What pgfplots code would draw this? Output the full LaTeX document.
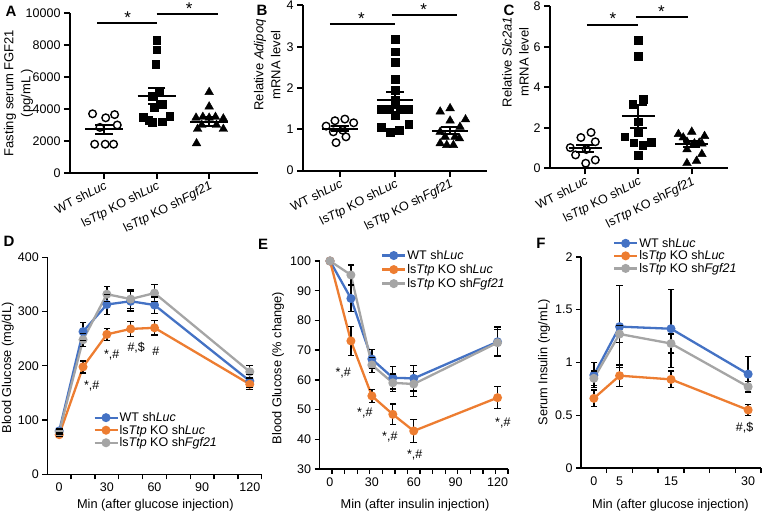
\documentclass[border=0pt]{standalone}
\usepackage{pgfplots}
\pgfplotsset{compat=1.18}
\usepackage{fontspec}
\setmainfont{Liberation Sans}
\definecolor{cblue}{RGB}{68,114,196}
\definecolor{corange}{RGB}{237,125,49}
\definecolor{cgray}{RGB}{165,165,165}
\newcommand\ft{\fontsize{12.5bp}{15bp}\selectfont}
\newcommand\fa{\fontsize{12.8bp}{15bp}\selectfont}
\newcommand\fy{\fontsize{13bp}{17bp}\selectfont}
\newcommand\fp{\fontsize{15bp}{18bp}\selectfont\bfseries}
\newcommand\fs{\fontsize{17bp}{18bp}\selectfont}
\pgfplotsset{
  scat/.style={
    scale only axis, axis lines*=left, clip=false,
    axis line style={line width=2bp, black},
    tick align=outside, major tick length=6bp,
    tick style={line width=2bp, black},
    ymin=0, xtick={0,1,2},
    xticklabels={WT sh\textit{Luc}, ls\textit{Ttp} KO sh\textit{Luc}, ls\textit{Ttp} KO sh\textit{Fgf21}},
    xticklabel style={rotate=27, anchor=north east, font=\ft, inner sep=1bp},
    yticklabel style={font=\ft},
    /pgf/number format/assume math mode=true,
    /pgf/number format/1000 sep={},
    scaled y ticks=false,
  },
  dot/.style={only marks, mark=o, mark size=3.8bp, line width=1.4bp, black},
  sq/.style={only marks, mark=square*, mark size=3.9bp, black},
  tri/.style={only marks, mark=triangle*, mark size=5bp, black},
  mline/.style={line width=2bp, black, mark=none},
  vbar/.style={black, line width=2bp, mark=none, unbounded coords=jump, forget plot},
  bcap/.style={black, only marks, mark=-, mark size=8.7bp, mark options={line width=2bp, solid}, forget plot},
  lp/.style={
    scale only axis, axis lines*=left, clip=false,
    axis line style={line width=1.3bp, black},
    tick align=outside, major tick length=5bp, minor tick length=5bp,
    tick style={line width=1.3bp, black},
    every major x tick/.append style={draw=none},
    ticklabel style={font=\ft},
    /pgf/number format/assume math mode=true,
    legend style={draw=none, fill=none, font=\ft, anchor=north west, row sep=0bp, nodes={inner sep=1bp}},
    legend cell align=left,
    legend image code/.code={\draw[mark repeat=2,mark phase=2,##1] plot coordinates {(0bp,0bp)(11.5bp,0bp)(23bp,0bp)};},
  },
  ser/.style={line width=2.3bp, mark=*, mark size=3.3bp, mark options={solid}},
  ebar/.style={black, line width=1.3bp, mark=none, unbounded coords=jump, forget plot},
  ecap/.style={black, only marks, mark=-, mark size=3.3bp, mark options={line width=1.3bp, solid}, forget plot},
}
\begin{document}
\begin{tikzpicture}
\useasboundingbox (0,0) rectangle (762bp,513bp);
% ---------------- A
\begin{axis}[scat, at={(70bp,340bp)}, anchor=south west, width=188bp, height=160bp,
  xmin=-0.65, xmax=2.93, ymax=10000, ytick={0,2000,...,10000}]
\addplot[dot] coordinates {(-0.22,3700)(0.03,3450)(0.2,3650)(-0.08,2850)(0.25,3000)(-0.18,1800)(0.02,1800)(0.18,1800)};
\addplot[sq] coordinates {(1,8300)(1,7700)(0.98,6800)(1.05,5100)(0.92,4800)(1.1,4300)(0.95,4100)(0.75,3500)(0.85,3300)(1.25,3550)(0.92,3150)(1.1,3200)};
\addplot[tri] coordinates {(2,5050)(2,4150)(1.75,3450)(1.88,3500)(2.0,3450)(2.12,3500)(2.27,3400)(1.86,3000)(2.14,3000)(1.78,2750)(2.27,2750)(1.76,1850)};
\addplot[mline] coordinates {(-0.36,2720)(0.36,2720)};
\addplot[mline] coordinates {(0.64,4830)(1.36,4830)};
\addplot[mline] coordinates {(1.64,3200)(2.36,3200)};
\addplot[vbar] coordinates {(0,2440)(0,3000)(0,nan)(1,4330)(1,5330)(1,nan)(2,2910)(2,3490)};
\addplot[bcap] coordinates {(0,2440)(0,3000)(1,4330)(1,5330)(2,2910)(2,3490)};
\addplot[mline] coordinates {(-0.13,9370)(1,9370)};
\addplot[mline] coordinates {(1,9960)(2.17,9960)};
\node[font=\fs, anchor=base] at (axis cs:0.45,9356) {*};
\node[font=\fs, anchor=base] at (axis cs:1.62,9875) {*};
\node[font=\fy, rotate=90, align=center] at (axis cs:-1.63,5000) {Fasting serum FGF21\\(pg/mL )};
\end{axis}
% ---------------- B
\begin{axis}[scat, at={(303bp,342.3bp)}, anchor=south west, width=184bp, height=165.2bp,
  xmin=-0.67, xmax=2.67, ymax=4, ytick={0,1,...,4}]
\addplot[dot] coordinates {(-0.25,1.08)(-0.09,1.21)(0.09,1.25)(0.25,1.16)(-0.12,0.94)(0.05,0.98)(0.11,0.82)(-0.07,0.68)};
\addplot[sq] coordinates {(1,3.18)(1,2.88)(1,2.62)(1,2.22)(1,1.95)(1,1.71)(0.75,1.48)(0.9,1.48)(1.1,1.48)(1.25,1.48)(1,1.35)(0.75,1.06)(0.91,0.93)(1.08,0.98)(1.25,1.12)};
\addplot[tri] coordinates {(1.82,1.43)(2,1.51)(2,1.21)(2.28,1.24)(2.18,1.06)(1.82,0.94)(2.09,0.82)(1.82,0.66)(1.94,0.62)(2.06,0.62)(2.17,0.78)(1.91,0.82)};
\addplot[mline] coordinates {(-0.33,1.02)(0.33,1.02)};
\addplot[mline] coordinates {(0.67,1.72)(1.33,1.72)};
\addplot[mline] coordinates {(1.67,0.97)(2.33,0.97)};
\addplot[vbar] coordinates {(0,0.96)(0,1.08)(0,nan)(1,1.53)(1,1.91)(1,nan)(2,0.89)(2,1.05)};
\addplot[bcap] coordinates {(0,0.96)(0,1.08)(1,1.53)(1,1.91)(2,0.89)(2,1.05)};
\addplot[mline] coordinates {(-0.18,3.55)(1,3.55)};
\addplot[mline] coordinates {(0.94,3.78)(2.13,3.78)};
\node[font=\fs, anchor=base] at (axis cs:0.39,3.53) {*};
\node[font=\fs, anchor=base] at (axis cs:1.52,3.75) {*};
\node[font=\fy, rotate=90, align=center] at (axis cs:-1.32,2.56) {Relative \textit{Adipoq}\\mRNA level};
\end{axis}
% ---------------- C
\begin{axis}[scat, at={(550bp,344.7bp)}, anchor=south west, width=178bp, height=162bp,
  xmin=-0.66, xmax=2.68, ymax=8, ytick={0,2,...,8}]
\addplot[dot] coordinates {(-0.08,1.52)(0.11,1.77)(-0.28,1.02)(0.19,1.31)(-0.18,0.66)(0.02,0.93)(0.19,0.41)(0.01,0.25)};
\addplot[sq] coordinates {(1,6.31)(1,5.52)(1.09,3.43)(0.89,3.15)(1,2.30)(1,1.77)(0.74,1.56)(0.91,1.26)(1.08,1.15)(1.24,1.28)(1,0.66)};
\addplot[tri] coordinates {(1.75,1.69)(1.84,1.52)(2,1.80)(2.24,1.59)(1.91,1.31)(2.14,1.26)(2.05,1.23)(2.19,1.22)(1.91,0.93)(2.19,0.70)(1.91,0.25)(2.09,0.36)};
\addplot[mline] coordinates {(-0.31,0.98)(0.31,0.98)};
\addplot[mline] coordinates {(0.69,2.57)(1.31,2.57)};
\addplot[mline] coordinates {(1.69,1.2)(2.31,1.2)};
\addplot[vbar] coordinates {(0,0.79)(0,1.17)(0,nan)(1,2.00)(1,3.14)(1,nan)(2,1.05)(2,1.35)};
\addplot[bcap] coordinates {(0,0.79)(0,1.17)(1,2.00)(1,3.14)(2,1.05)(2,1.35)};
\addplot[mline] coordinates {(0.03,7.08)(1,7.08)};
\addplot[mline] coordinates {(0.95,7.49)(1.93,7.49)};
\node[font=\fs, anchor=base] at (axis cs:0.52,7.08) {*};
\node[font=\fs, anchor=base] at (axis cs:1.43,7.46) {*};
\node[font=\fy, rotate=90, align=center] at (axis cs:-1.31,5.25) {Relative \textit{Slc2a1}\\mRNA level};
\end{axis}
% ---------------- D
\begin{axis}[lp, at={(47.3bp,38.7bp)}, anchor=south west, width=214.4bp, height=217bp,
  xmin=-7.5, xmax=127.5, ymin=0, ymax=400, ytick={0,100,...,400},
  xtick={0,30,60,90,120}, minor xtick={7.5,22.5,...,127.5},
  legend style={at={(rel axis cs:0.2,0.3)}}]
\addplot[ser, cblue] coordinates {(0,80)(15,263)(30,313)(45,319)(60,312)(120,172)};
\addlegendentry{WT sh\textit{Luc}}
\addplot[ser, corange] coordinates {(0,73)(15,198)(30,258)(45,268)(60,270)(120,166)};
\addlegendentry{ls\textit{Ttp} KO sh\textit{Luc}}
\addplot[ser, cgray] coordinates {(0,78)(15,248)(30,332)(45,323)(60,334)(120,189)};
\addlegendentry{ls\textit{Ttp} KO sh\textit{Fgf21}}
\addplot[ebar] coordinates {(0,75)(0,85)(0,nan)(15,246)(15,280)(15,nan)(30,295)(30,331)(30,nan)(45,301)(45,337)(45,nan)(60,297)(60,327)(60,nan)(120,160)(120,184)(120,nan)
 (0,70)(0,76)(0,nan)(15,187)(15,209)(15,nan)(30,247)(30,269)(30,nan)(45,254)(45,282)(45,nan)(60,257)(60,283)(60,nan)(120,156)(120,176)(120,nan)
 (0,74)(0,82)(0,nan)(15,236)(15,260)(15,nan)(30,318)(30,346)(30,nan)(45,306)(45,340)(45,nan)(60,318)(60,350)(60,nan)(120,178)(120,200)};
\addplot[ecap] coordinates {(0,75)(0,85)(15,246)(15,280)(30,295)(30,331)(45,301)(45,337)(60,297)(60,327)(120,160)(120,184)
 (0,70)(0,76)(15,187)(15,209)(30,247)(30,269)(45,254)(45,282)(60,257)(60,283)(120,156)(120,176)
 (0,74)(0,82)(15,236)(15,260)(30,318)(30,346)(45,306)(45,340)(60,318)(60,350)(120,178)(120,200)};
\node[font=\ft] at (axis cs:20.5,163) {*,\#};
\node[font=\ft] at (axis cs:33.1,220) {*,\#};
\node[font=\ft] at (axis cs:48.5,234) {\#,\$};
\node[font=\ft] at (axis cs:60.9,226) {\#};
\node[font=\fa, rotate=90] at (axis cs:-32.4,196) {Blood Glucose (mg/dL)};
\node[font=\fa] at (axis cs:60.5,-56.6) {Min (after glucose injection)};
\end{axis}
% ---------------- E
\begin{axis}[lp, at={(319.5bp,44bp)}, anchor=south west, width=188.5bp, height=208bp,
  xmin=-7.5, xmax=127.5, ymin=30, ymax=100, ytick={30,40,...,100},
  xtick={0,30,60,90,120}, minor xtick={1.5,10.5,...,127.5},
  legend style={at={(rel axis cs:0.31,1.067)}, row sep=1.5bp}]
\addplot[ser, cblue] coordinates {(0,100)(15,87.4)(30,67)(45,60.7)(60,60.5)(120,72.8)};
\addlegendentry{WT sh\textit{Luc}}
\addplot[ser, corange] coordinates {(0,100)(15,73.1)(30,54.6)(45,48.4)(60,42.8)(120,54)};
\addlegendentry{ls\textit{Ttp} KO sh\textit{Luc}}
\addplot[ser, cgray] coordinates {(0,100)(15,95.3)(30,65)(45,59)(60,58.6)(120,72.5)};
\addlegendentry{ls\textit{Ttp} KO sh\textit{Fgf21}}
\addplot[ebar] coordinates {(15,83.0)(15,91.8)(15,nan)(30,63.8)(30,70.2)(30,nan)(45,56.9)(45,64.5)(45,nan)(60,56.2)(60,64.8)(60,nan)(120,67.8)(120,77.8)(120,nan)
 (15,68.3)(15,77.9)(15,nan)(30,52.4)(30,56.8)(30,nan)(45,44.9)(45,51.9)(45,nan)(60,39.0)(60,46.6)(60,nan)(120,50.3)(120,57.7)(120,nan)
 (15,91.9)(15,98.7)(15,nan)(30,62.5)(30,67.5)(30,nan)(45,56)(45,62)(45,nan)(60,54.4)(60,62.8)(60,nan)(120,68)(120,77)};
\addplot[ecap] coordinates {(15,83.0)(15,91.8)(30,63.8)(30,70.2)(45,56.9)(45,64.5)(60,56.2)(60,64.8)(120,67.8)(120,77.8)
 (15,68.3)(15,77.9)(30,52.4)(30,56.8)(45,44.9)(45,51.9)(60,39.0)(60,46.6)(120,50.3)(120,57.7)
 (15,91.9)(15,98.7)(30,62.5)(30,67.5)(45,56)(45,62)(60,54.4)(60,62.8)(120,68)(120,77)};
\node[font=\ft] at (axis cs:9.5,62.2) {*,\#};
\node[font=\ft] at (axis cs:25,48.7) {*,\#};
\node[font=\ft] at (axis cs:42.9,40.9) {*,\#};
\node[font=\ft] at (axis cs:60.7,34.7) {*,\#};
\node[font=\ft] at (axis cs:123.8,45.4) {*,\#};
\node[font=\fa, rotate=90] at (axis cs:-37.2,64) {Blood Glucose (\% change)};
\node[font=\fa] at (axis cs:60.9,17.9) {Min (after insulin injection)};
\end{axis}
% ---------------- F
\begin{axis}[lp, at={(581bp,45bp)}, anchor=south west, width=180bp, height=211bp,
  xmin=-2.5, xmax=32.5, ymin=0, ymax=2, ytick={0,0.5,...,2},
  xtick={0,5,15,30}, minor xtick={2.5,7.5,...,32.5},
  legend style={at={(rel axis cs:0.16,1.105)}}]
\addplot[ser, cblue] coordinates {(0,0.88)(5,1.34)(15,1.32)(30,0.89)};
\addlegendentry{WT sh\textit{Luc}}
\addplot[ser, corange] coordinates {(0,0.66)(5,0.875)(15,0.84)(30,0.55)};
\addlegendentry{ls\textit{Ttp} KO sh\textit{Luc}}
\addplot[ser, cgray] coordinates {(0,0.85)(5,1.27)(15,1.18)(30,0.77)};
\addlegendentry{ls\textit{Ttp} KO sh\textit{Fgf21}}
\addplot[ebar] coordinates {(0,0.76)(0,1.0)(0,nan)(5,0.95)(5,1.73)(5,nan)(15,0.95)(15,1.69)(15,nan)(30,0.72)(30,1.06)(30,nan)
 (0,0.58)(0,0.74)(0,nan)(5,0.775)(5,0.975)(5,nan)(15,0.76)(15,0.92)(15,nan)(30,0.50)(30,0.60)(30,nan)
 (0,0.78)(0,0.92)(0,nan)(5,1.19)(5,1.35)(5,nan)(15,1.09)(15,1.27)(15,nan)(30,0.72)(30,0.82)};
\addplot[ecap] coordinates {(0,0.76)(0,1.0)(5,0.95)(5,1.73)(15,0.95)(15,1.69)(30,0.72)(30,1.06)
 (0,0.58)(0,0.74)(5,0.775)(5,0.975)(15,0.76)(15,0.92)(30,0.50)(30,0.60)
 (0,0.78)(0,0.92)(5,1.19)(5,1.35)(15,1.09)(15,1.27)(30,0.72)(30,0.82)};
\node[font=\ft] at (axis cs:29.3,0.38) {\#,\$};
\node[font=\fa, rotate=90] at (axis cs:-9.7,1.0) {Serum Insulin (ng/mL)};
\node[font=\fa] at (axis cs:14.9,-0.35) {Min (after glucose injection)};
\end{axis}
% panel letters
\node[font=\fp] at (11bp,502bp) {A};
\node[font=\fp] at (262bp,503bp) {B};
\node[font=\fp] at (509bp,503bp) {C};
\node[font=\fp] at (9bp,272bp) {D};
\node[font=\fp] at (263bp,269bp) {E};
\node[font=\fp] at (541bp,270bp) {F};
\end{tikzpicture}
\end{document}
